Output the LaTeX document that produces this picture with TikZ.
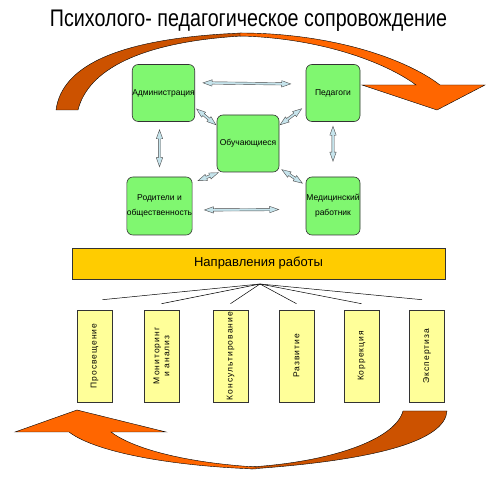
\documentclass[tikz,border=0pt]{standalone}
\usepackage{fontspec}
\setmainfont{Liberation Sans}
\newfontfamily\spaced[LetterSpace=12]{Liberation Sans}
\usetikzlibrary{calc}
\definecolor{boxgreen}{RGB}{128,247,112}
\definecolor{bandgold}{RGB}{255,204,0}
\definecolor{paleyellow}{RGB}{255,255,153}
\definecolor{arrowblue}{RGB}{198,228,236}
\definecolor{brightorange}{RGB}{255,102,0}
\definecolor{darkorange}{RGB}{204,82,0}
\def\gapa{8pt}\def\gapb{8pt}\def\headl{9pt}\def\headw{3.2pt}\def\shaftw{1.2pt}
\tikzset{
  gaps/.code 2 args={\def\gapa{#1}\def\gapb{#2}},
  partner/.style={draw=black!80, fill=boxgreen, rounded corners=6pt, line width=0.6pt,
    font=\fontsize{8.5}{15}\selectfont, align=center, inner sep=0pt},
  dirbox/.style={draw=black!80, fill=paleyellow, line width=0.6pt, rotate=90,
    minimum width=92pt, minimum height=35pt, inner sep=0pt, align=center,
    font=\fontsize{8.5}{10}\spaced},
  dblarrow/.style={draw=black!70, fill=arrowblue, line width=0.4pt,
    to path={($(\tikztostart)!\gapa!(\tikztotarget)$)
      -- ($(\tikztostart)!\gapa+\headl!(\tikztotarget)!\headw!90:(\tikztotarget)$)
      -- ($(\tikztostart)!\gapa+\headl!(\tikztotarget)!\shaftw!90:(\tikztotarget)$)
      -- ($(\tikztotarget)!\gapb+\headl!(\tikztostart)!\shaftw!-90:(\tikztostart)$)
      -- ($(\tikztotarget)!\gapb+\headl!(\tikztostart)!\headw!-90:(\tikztostart)$)
      -- ($(\tikztotarget)!\gapb!(\tikztostart)$)
      -- ($(\tikztotarget)!\gapb+\headl!(\tikztostart)!\headw!90:(\tikztostart)$)
      -- ($(\tikztotarget)!\gapb+\headl!(\tikztostart)!\shaftw!90:(\tikztostart)$)
      -- ($(\tikztostart)!\gapa+\headl!(\tikztotarget)!\shaftw!-90:(\tikztotarget)$)
      -- ($(\tikztostart)!\gapa+\headl!(\tikztotarget)!\headw!-90:(\tikztotarget)$)
      -- cycle}},
}
\begin{document}
\begin{tikzpicture}[x=1pt, y=-1pt]
        \useasboundingbox (0,0) rectangle (488,486);

        \node (title) at (248.5,21) {\fontsize{24}{28}\selectfont\scalebox{0.82}[1]{Психолого- педагогическое сопровождение}};

        \fill[darkorange, draw=black, line width=0.4pt] (56,110) .. controls (62,65) and (120,38) .. (242,33)
            -- (242,36) .. controls (140,42) and (88,70) .. (78,110) -- cycle;
        \fill[brightorange, draw=black, line width=0.4pt] (240,33) .. controls (330,33) and (405,58) .. (440,85)
            -- (485,85) -- (437,110) -- (362,85) -- (416,85) .. controls (385,62) and (320,38) .. (240,36) -- cycle;

        \node[partner, minimum width=61pt, minimum height=57pt] (adm) at (163.5,93) {Администрация};
        \node[partner, minimum width=54pt, minimum height=57pt] (ped) at (333,93) {Педагоги};
        \node[partner, minimum width=62pt, minimum height=57pt] (obu) at (248,143.5) {Обучающиеся};
        \node[partner, minimum width=61pt, minimum height=58pt] (rod) at (159.5,206) {Родители и\\общественность};
        \node[partner, minimum width=54pt, minimum height=58pt] (med) at (333,206) {Медицинский\\работник};

        \draw[dblarrow, gaps={8pt}{15pt}] (adm.18) to (ped.162);
        \draw[dblarrow, gaps={12pt}{27pt}] (rod.-7) to (med.187);
        \draw[dblarrow, gaps={8pt}{10pt}] (adm.south -| rod.north) to (rod.north);
        \draw[dblarrow, gaps={4.5pt}{15.5pt}] (ped.south) to (med.north);
        \draw[dblarrow, gaps={2pt}{1pt}] (adm.-25) to (obu.150);
        \draw[dblarrow, gaps={5pt}{1pt}] (ped.205) to (obu.30);
        \draw[dblarrow, gaps={6pt}{1pt}] (rod.35) to (obu.225);
        \draw[dblarrow, gaps={3pt}{4pt}] (obu.-38) to (med.143);

        \node[draw=black!80, fill=bandgold, line width=0.6pt, minimum width=373pt, minimum height=31pt,
            font=\fontsize{13}{15}\selectfont] (dirs) at (258.5,263.5) {Направления работы};
        \coordinate (fan) at (260,284);

        \foreach \name/\x/\txt in {b1/94.5/Просвещение, b2/161.5/{Мониторинг\\и анализ},
                b3/230.5/Консультирование, b4/296.5/Развитие, b5/361.5/Коррекция, b6/427/Экспертиза}
            \node[dirbox] (\name) at (\x,356) {\txt};

        \draw[line width=0.5pt] (fan) -- ([shift={(8pt,10pt)}]b1.east);
        \draw[line width=0.5pt] (fan) -- ([yshift=6pt]b2.east);
        \draw[line width=0.5pt] (fan) -- ([yshift=6pt]b3.east);
        \draw[line width=0.5pt] (fan) -- ([yshift=6pt]b4.east);
        \draw[line width=0.5pt] (fan) -- ([yshift=6pt]b5.east);
        \draw[line width=0.5pt] (fan) -- ([shift={(-5pt,10pt)}]b6.east);

        \fill[darkorange, draw=black, line width=0.4pt] (403,411) -- (447,411) .. controls (445,440) and (380,460) .. (250,469)
            -- (250,467) .. controls (330,462) and (395,440) .. (403,411) -- cycle;
        \fill[brightorange, draw=black, line width=0.4pt] (256,469) .. controls (170,466) and (95,452) .. (69,432)
            -- (15,432) -- (77,410) -- (166,432) -- (111,432) .. controls (135,450) and (190,463) .. (256,467) -- cycle;
\end{tikzpicture}
\end{document}
